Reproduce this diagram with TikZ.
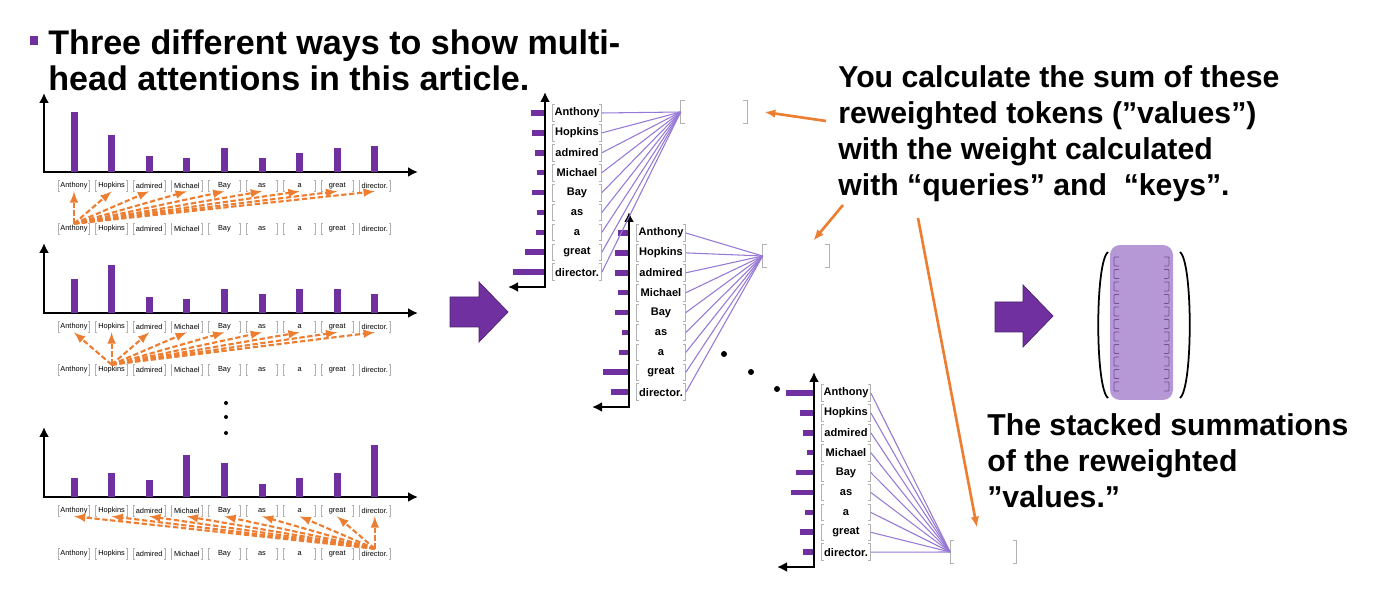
\documentclass[tikz,border=0pt]{standalone}
\usepackage{fontspec}
\setmainfont{Liberation Sans}
\usetikzlibrary{positioning,arrows.meta}
\tikzset{>=latex}

\definecolor{barpurple}{RGB}{112,48,160}
\definecolor{linepurple}{RGB}{150,120,215}
\definecolor{vecpurple}{RGB}{182,152,215}
\definecolor{callorange}{RGB}{237,125,49}

% brackets round a token node
\newcommand{\wbrk}[2][0.05cm]{%
  \draw[brk] ([xshift=#1]#2.north west) -| (#2.south west) -- ++(#1,0);
  \draw[brk] ([xshift=-#1]#2.north east) -| (#2.south east) -- ++(-#1,0);}

\tikzset{
  axis/.style={line width=1.6pt, {Latex[length=0.2cm,width=0.2cm]}-{Latex[length=0.2cm,width=0.2cm]}},
  bar/.style={fill=barpurple},
  tok/.style={inner sep=0pt, minimum width=0.62cm, minimum height=0.2cm,
    font=\fontsize{4.2}{4.2}\selectfont},
  word/.style={inner sep=0pt, minimum width=0.98cm, minimum height=0.32cm,
    font=\bfseries\fontsize{6.3}{6.3}\selectfont},
  outvec/.style={inner sep=0pt, minimum width=1.32cm, minimum height=0.44cm},
  brk/.style={draw=gray!60, line width=0.5pt},
  attn/.style={->, callorange, line width=1.2pt, dash pattern=on 3pt off 1.5pt},
  wline/.style={linepurple, line width=0.6pt},
  callout/.style={-{Latex[length=0.22cm,width=0.17cm]}, callorange, line width=1.5pt},
  bigarrow/.style={fill=barpurple, draw=barpurple!70!black, line width=0.4pt},
  heading/.style={inner sep=0pt, anchor=north west, align=left,
    font=\bfseries\fontsize{17.2}{20.5}\selectfont},
}

\begin{document}
\begin{tikzpicture}[x=0.02cm, y=-0.02cm]

  \useasboundingbox (0,0) rectangle (1374,614);
  \fill[white] (0,0) rectangle (1374,614);

  % Title
  \fill[barpurple] (30,36) rectangle (38,45);
  \node[heading, font=\bfseries\fontsize{19.4}{21}\selectfont] (title) at (48,29)
    {Three different ways to show multi-\\head attentions in this article.};

  % Left: three heads as bar charts
  \foreach \n/\ytop/\ax/\src/\hs in {1/93/172/0/{60,37,16,14,24,14,19,24,26},
      2/243/313/1/{34,48,16,14,24,19,24,24,19},
      3/427/497/8/{19,24,17,42,34,13,19,24,52}}{
    \draw[axis] (44,\ytop) -- (44,\ax) -- (418,\ax);
    \foreach \hgt [count=\q from 0] in \hs {
      \fill[bar] (70.5+37.6*\q,\ax) rectangle ++(7,-\hgt);
    }
    \foreach \w [count=\q from 0] in {Anthony,Hopkins,admired,Michael,Bay,as,a,great,director.}{
      \node[tok] (t\n-\q) at (74+37.6*\q,\ax+14) {\w};
      \node[tok] (b\n-\q) at (74+37.6*\q,\ax+57) {\w};
      \wbrk[0.03cm]{t\n-\q}
      \wbrk[0.03cm]{b\n-\q}
    }
    \foreach \q in {0,...,8}{
      \draw[attn] (b\n-\src.north) -- (t\n-\q.south);
    }
  }
  \fill (226,403) circle (0.04cm);
  \fill (226,417) circle (0.04cm);
  \fill (226,433) circle (0.04cm);

  \draw[bigarrow] (450,297) -- (479,297) -- (479,282) -- (508,312)
    -- (479,342) -- (479,327) -- (450,327) -- cycle;

  % Middle: weighted sums of the values
  \foreach \st/\ax/\ytop/\lens in {A/545/92/{13,12,9,7,12,7,8,19,31},
      B/629/212/{10,13,13,10,13,6,9,25,17},
      C/814/372/{27,13,10,6,17,22,8,13,10}}{
    \draw[axis] (\ax,\ytop) -- (\ax,\ytop+195) -- (\ax-37,\ytop+195);
    \foreach \len [count=\q from 0] in \lens {
      \fill[bar] (\ax-1,\ytop+18.2+19.9*\q) rectangle ++(-\len,5.6);
    }
    \foreach \w [count=\q from 0] in {Anthony,Hopkins,admired,Michael,Bay,as,a,great,director.}{
      \node[word] (\st\q) at (\ax+32,\ytop+21+19.9*\q) {\w};
      \wbrk{\st\q}
    }
  }

  \node[outvec] (outA) at (714,112) {};
  \node[outvec] (outB) at (796,256) {};
  \node[outvec] (outC) at (983.5,552) {};
  \foreach \st in {outA,outB,outC}{
    \wbrk[0.08cm]{\st}
  }

  \foreach \q in {0,...,8}{
    \draw[wline] (A\q.east) -- (outA.west);
    \draw[wline] (B\q.east) -- (outB.west);
    \draw[wline] (C\q.east) -- (outC.west);
  }

  \fill (724,354) circle (0.06cm);
  \fill (751,372) circle (0.06cm);
  \fill (777,389) circle (0.06cm);

  % Text and callouts
  \node[heading] (calc) at (838,65)
    {You calculate the sum of these\\reweighted tokens (”values”)\\with the weight calculated\\with “queries” and~~“keys”.};
  \node[heading] (stacked) at (987,413)
    {The stacked summations\\of the reweighted\\”values.”};

  \coordinate (cA) at (826,121);
  \coordinate (cB) at (843,205);
  \coordinate (cC) at (918,218);
  \coordinate[right=0.34cm of outA.east] (hA);
  \coordinate[above left=0.08cm and 0.32cm of outB.north east] (hB);
  \coordinate[above left=0.26cm and 0.13cm of outC.north] (hC);
  \draw[callout] (cA) -- (hA);
  \draw[callout] (cB) -- (hB);
  \draw[callout] (cC) -- (hC);

  % Right: stacked output
  \draw[bigarrow] (995,302) -- (1023,302) -- (1023,285) -- (1053,316)
    -- (1023,347) -- (1023,332) -- (995,332) -- cycle;
  \node[fill=vecpurple, rounded corners=0.2cm, minimum width=1.26cm,
    minimum height=3.1cm, inner sep=0pt] (sumvec) at (1141.5,322.5) {};
  \foreach \q in {0,...,10}{
    \draw[barpurple!60!gray, line width=0.5pt, rounded corners=0.5pt]
      (1119,257+12.5*\q) -| (1114,266+12.5*\q) -- ++(5,0);
    \draw[barpurple!60!gray, line width=0.5pt, rounded corners=0.5pt]
      (1164,257+12.5*\q) -| (1169,266+12.5*\q) -- ++(-5,0);
  }
  \draw[line width=1pt] (1108,252) .. controls (1095,262) and (1095,388) .. (1108,398);
  \draw[line width=1pt] (1180,252) .. controls (1193,262) and (1193,388) .. (1180,398);

\end{tikzpicture}
\end{document}
